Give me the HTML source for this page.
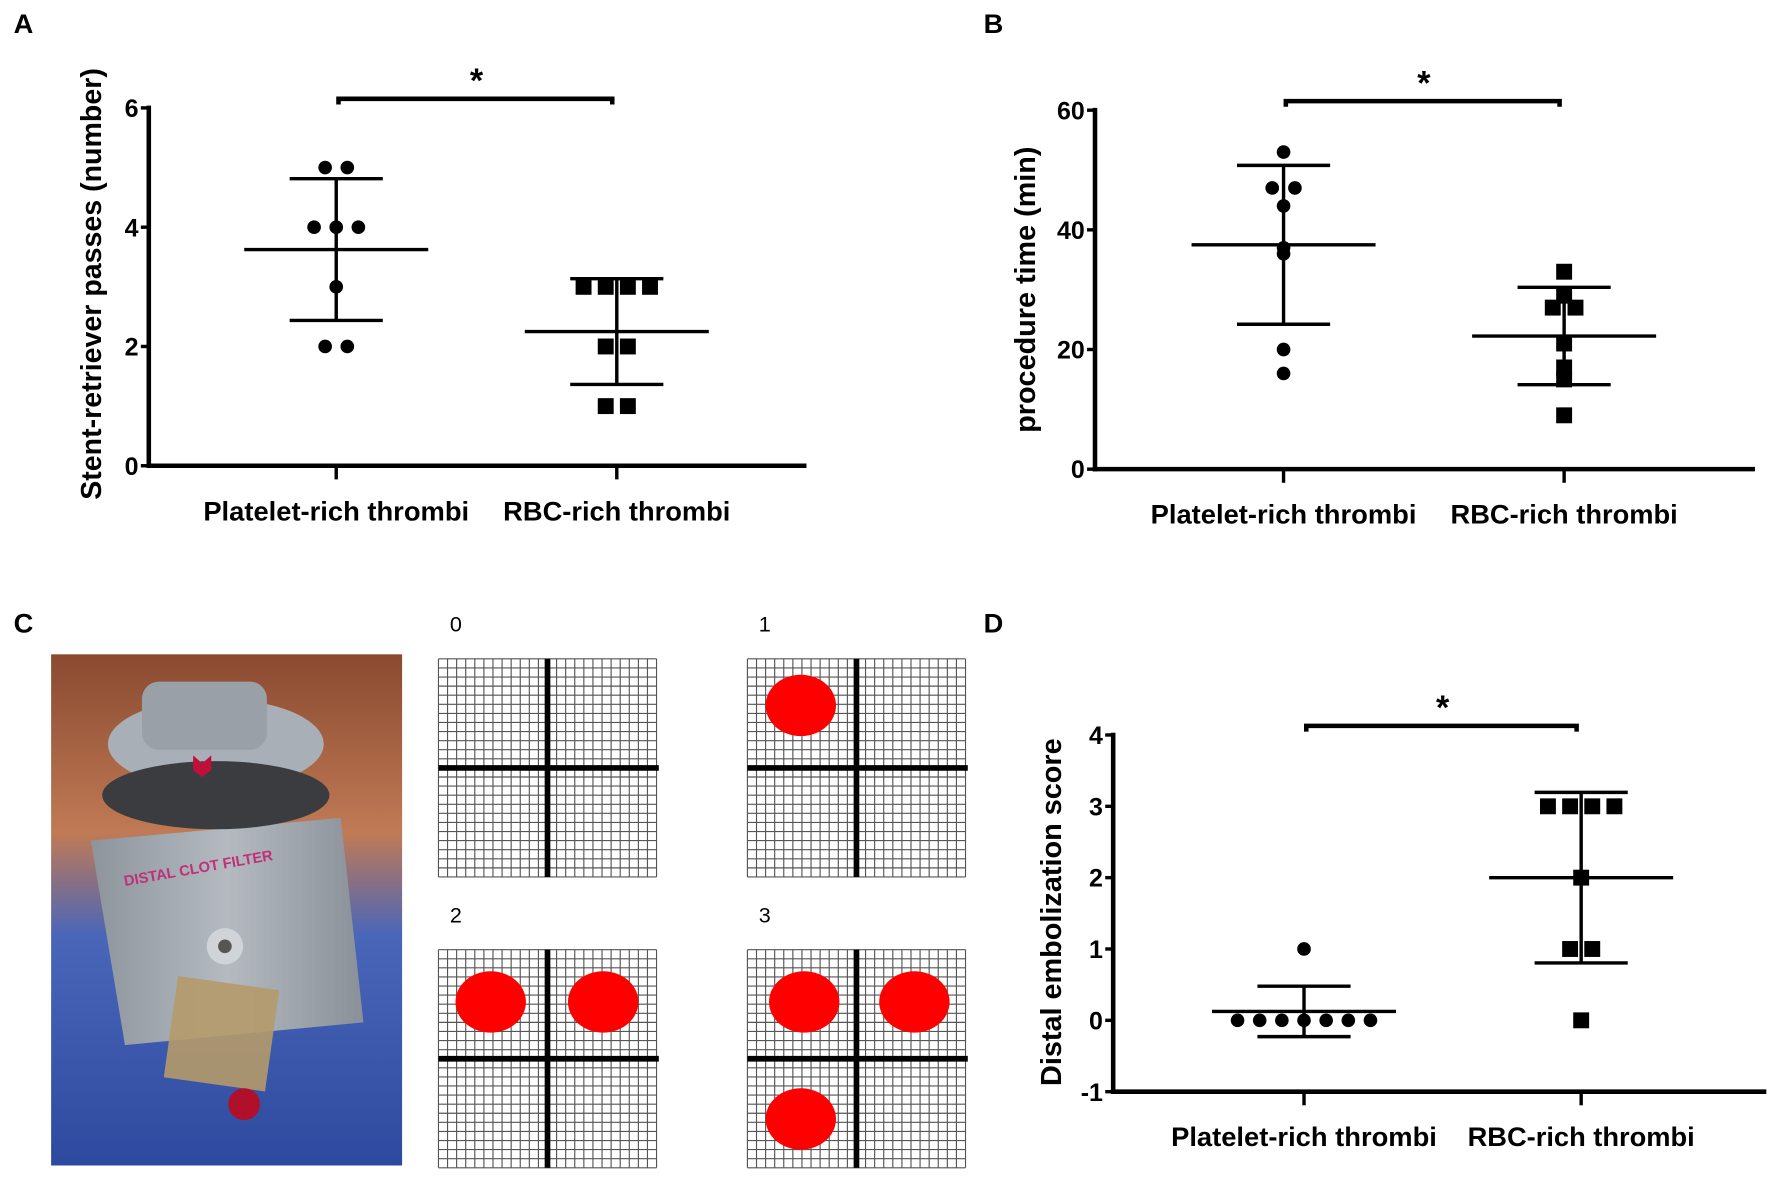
<!DOCTYPE html>
<html><head><meta charset="utf-8"><style>
html,body{margin:0;padding:0;background:#fff}
svg{display:block}
text{font-family:"Liberation Sans",sans-serif;font-weight:bold;fill:#000}
</style></head><body>
<svg id="fig" width="1772" height="1178" viewBox="0 0 1560 1037" preserveAspectRatio="none">
<rect width="1560" height="1037" fill="#fff"/>
<text x="12" y="29" font-size="24">A</text>
<text x="866" y="29" font-size="24">B</text>
<text x="12" y="557" font-size="24">C</text>
<text x="866" y="557" font-size="24">D</text>
<g id="photo">
<defs>
<linearGradient id="bg" x1="0" y1="0" x2="0" y2="1"><stop offset="0" stop-color="#8a4a30"/><stop offset="0.35" stop-color="#c07a55"/><stop offset="0.55" stop-color="#4a66b8"/><stop offset="1" stop-color="#2e4aa0"/></linearGradient>
<linearGradient id="dev" x1="0" y1="0" x2="1" y2="0"><stop offset="0" stop-color="#8d949c"/><stop offset="0.5" stop-color="#b4bac0"/><stop offset="1" stop-color="#8a9098"/></linearGradient>
</defs>
<rect x="45" y="576" width="309" height="450" fill="url(#bg)"/>
<path d="M80 740 L300 720 L320 900 L110 920 Z" fill="url(#dev)"/>
<ellipse cx="190" cy="655" rx="95" ry="40" fill="#a9afb6"/>
<rect x="125" y="600" width="110" height="60" rx="15" fill="#9aa0a7"/>
<ellipse cx="190" cy="700" rx="100" ry="30" fill="#3a3c40"/>
<path d="M170 665 L178 672 L186 665 L186 678 L178 684 L170 678 Z" fill="#c0103a"/>
<text x="110" y="780" font-size="13" style="fill:#c03078" transform="rotate(-10 110 780)">DISTAL CLOT FILTER</text>
<circle cx="198" cy="833" r="16" fill="#d0d4d8"/><circle cx="198" cy="833" r="6" fill="#555"/>
<rect x="150" y="865" width="90" height="90" fill="#b59a6a" opacity="0.9" transform="rotate(8 195 910)"/>
<ellipse cx="215" cy="972" rx="14" ry="14" fill="#b0102a"/>
</g>
<g id="grids"></g>
<g id="charts"></g>
</svg>
<script>
// ---- data ----
const categories = ["Platelet-rich thrombi", "RBC-rich thrombi"];
const aPlatelet = [5,5,4,4,4,3,2,2];
const aRBC = [3,3,3,3,2,2,1,1];
const aTicks = [0,2,4,6];
const bPlatelet = [53,47,47,44,36,37,20,16];
const bRBC = [33,29,27,27,21,17,15,9];
const bTicks = [0,20,40,60];
const dPlatelet = [1,0,0,0,0,0,0,0];
const dRBC = [3,3,3,3,2,1,1,0];
const dTicks = [-1,0,1,2,3,4];
const gridScores = [0,1,2,3];

const NS="http://www.w3.org/2000/svg";
function mk(tag,attrs,parent){const e=document.createElementNS(NS,tag);for(const k in attrs)e.setAttribute(k,attrs[k]);parent.appendChild(e);return e;}
function stats(v){const m=v.reduce((a,b)=>a+b,0)/v.length;const sd=Math.sqrt(v.reduce((a,b)=>a+(b-m)*(b-m),0)/(v.length-1));return [m,sd];}
const catLen=[234,200];

function chart(cfg){
  const g=mk('g',{},document.getElementById('charts'));
  
  
  const y=v=>cfg.y0-(v-cfg.min)/(cfg.max-cfg.min)*(cfg.y0-cfg.y1);
  const xs=[cfg.cx0,cfg.cx1];
  const yax=mk('line',{x1:cfg.ax,y1:cfg.y1-2,x2:cfg.ax,y2:cfg.y0+2,stroke:'#000','stroke-width':4},g);
  
  
  const xax=mk('line',{x1:cfg.ax-2,y1:cfg.y0,x2:cfg.xend,y2:cfg.y0,stroke:'#000','stroke-width':4},g);
  
  
  cfg.ticks.forEach(t=>{
    mk('line',{x1:cfg.ax-7,y1:y(t),x2:cfg.ax,y2:y(t),stroke:'#000','stroke-width':3},g);
    const tl=mk('text',{x:cfg.ax-9,y:y(t)+8,'font-size':22,'text-anchor':'end'},g);
    tl.textContent=t;
    
    
  });
  xs.forEach((x,i)=>{
    mk('line',{x1:x,y1:cfg.y0,x2:x,y2:cfg.y0+12,stroke:'#000','stroke-width':3},g);
    const cl=mk('text',{x:x-catLen[i]/2,y:cfg.y0+48,'font-size':24,textLength:catLen[i],lengthAdjust:'spacingAndGlyphs'},g);
    cl.textContent=categories[i];
    
    
  });
  const yt=mk('text',{x:-cfg.tl/2,y:0,'font-size':25,textLength:cfg.tl,lengthAdjust:'spacingAndGlyphs',transform:`translate(${cfg.tx},${cfg.tc}) rotate(-90)`},g);
  yt.textContent=cfg.title;
  
  
  const by=cfg.y1-8;
  const br=mk('path',{d:`M${xs[0]+2} ${by+5} V${by} H${xs[1]-4} V${by+5}`,stroke:'#000','stroke-width':4,fill:'none'},g);
  
  
  const st=mk('text',{x:(xs[0]+xs[1])/2,y:by-6,'font-size':30,'text-anchor':'middle'},g);
  st.textContent='*';
  
  
  [cfg.s0,cfg.s1].forEach((vals,i)=>{
    const x=xs[i];
    const cnt={},idx={};
    vals.forEach(v=>cnt[v]=(cnt[v]||0)+1);
    vals.forEach(v=>{
      idx[v]=(idx[v]||0);
      const n=cnt[v],k=idx[v]++;
      const px=x+(k-(n-1)/2)*cfg.sp;
      let m;
      if(i===0) m=mk('circle',{cx:px,cy:y(v),r:6,fill:'#000'},g);
      else m=mk('rect',{x:px-7,y:y(v)-7,width:14,height:14,fill:'#000'},g);
      
      
    });
    const [mn,sd]=stats(vals);
    const eb=mk('path',{d:`M${x-81} ${y(mn)} H${x+81} M${x-41} ${y(mn+sd)} H${x+41} M${x-41} ${y(mn-sd)} H${x+41} M${x} ${y(mn+sd)} V${y(mn-sd)}`,stroke:'#000','stroke-width':3,fill:'none'},g);
    
    
  });
}
chart({name:'chart-a-passes',ax:131,y0:410,y1:95,min:0,max:6,xend:710,cx0:296,cx1:543,ticks:aTicks,s0:aPlatelet,s1:aRBC,title:'Stent-retriever passes (number)',tx:89,tc:250,tl:380,sp:19.5});
chart({name:'chart-b-time',ax:964,y0:413,y1:97,min:0,max:60,xend:1545,cx0:1130,cx1:1377,ticks:bTicks,s0:bPlatelet,s1:bRBC,title:'procedure time (min)',tx:911,tc:255,tl:252,sp:20});
chart({name:'chart-d-embolization',ax:980,y0:961,y1:647,min:-1,max:4,xend:1555,cx0:1148,cx1:1392,ticks:dTicks,s0:dPlatelet,s1:dRBC,title:'Distal embolization score',tx:934,tc:803,tl:306,sp:19.5});

const gg=document.getElementById('grids');
const gpos=[[386,580],[658,580],[386,836],[658,836]];
const blobs=[[],[[705,621]],[[432,882],[531,882]],[[708,882],[805,882],[705,985]]];
gridScores.forEach((s,i)=>{
  const [gx,gy]=gpos[i];
  const sub=mk('g',{},gg);
  
  
  let d='';
  for(let k=0;k<=24;k++){const o=k*8;d+=`M${gx+o} ${gy}V${gy+192}M${gx} ${gy+o}H${gx+192}`;}
  mk('path',{d:d,stroke:'#555','stroke-width':1,fill:'none'},sub);
  mk('path',{d:`M${gx+96} ${gy}V${gy+192}M${gx} ${gy+96}H${gx+194}`,stroke:'#000','stroke-width':5,fill:'none'},sub);
  blobs[i].forEach(b=>mk('ellipse',{cx:b[0],cy:b[1],rx:31,ry:27,fill:'#f00'},sub));
  const lb=mk('text',{x:gx+10,y:gy-24,'font-size':19},sub);
  lb.setAttribute('style','font-weight:normal');
  lb.textContent=s;
  
  
});
</script>
</body></html>
